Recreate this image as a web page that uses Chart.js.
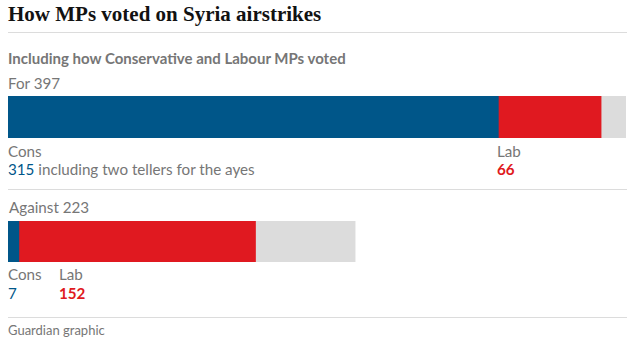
<!DOCTYPE html>
<html>
<head>
<meta charset="utf-8">
<script src="https://cdn.jsdelivr.net/npm/chart.js@4.4.0/dist/chart.umd.min.js"></script>
<style>
  body { margin: 0; width: 643px; height: 351px; background: #fff; position: relative; overflow: hidden; font-family: "Lato", sans-serif; color: #767676; }
  .abs { position: absolute; white-space: nowrap; }
  h1 { position: absolute; left: 8px; top: 2px; margin: 0; font: bold 21px "Liberation Serif", serif; color: #121212; }
  .rule { position: absolute; left: 8px; width: 619px; height: 1px; background: #dcdcdc; }
  .sub { font-size: 15px; font-weight: bold; }
  .txt { font-size: 15.2px; }
  .blue { color: #005689; }
  .red { color: #e01920; font-weight: bold; }
  canvas { position: absolute; left: 8px; }
</style>
</head>
<body>
<h1>How MPs voted on Syria airstrikes</h1>
<div class="rule" style="top:32px"></div>
<div class="abs sub" style="left:8px;top:49px">Including how Conservative and Labour MPs voted</div>
<div class="abs txt" style="left:8px;top:74px">For 397</div>
<canvas id="forChart" width="618" height="42" style="top:96px"></canvas>
<div class="abs txt" style="left:8px;top:142px">Cons</div>
<div class="abs txt" style="left:8px;top:160px"><span class="blue">315</span> including two tellers for the ayes</div>
<div class="abs txt" id="forLab" style="left:497px;top:142px">Lab</div>
<div class="abs txt red" style="left:497px;top:160px">66</div>
<div class="rule" style="top:189px"></div>
<div class="abs txt" style="left:9px;top:198px">Against 223</div>
<canvas id="againstChart" width="618" height="41" style="top:221px"></canvas>
<div class="abs txt" style="left:8px;top:265px">Cons</div>
<div class="abs txt blue" style="left:8px;top:284px">7</div>
<div class="abs txt" style="left:59px;top:265px">Lab</div>
<div class="abs txt red" style="left:59px;top:284px">152</div>
<div class="rule" style="top:317px"></div>
<div class="abs" style="left:8px;top:322px;font-size:13px">Guardian graphic</div>
<script>
const parties = ["Cons", "Lab", "Other"];
const partyColors = ["#005689", "#e01920", "#dcdcdc"];
const forVotes = [315, 66, 16];
const againstVotes = [7, 152, 64];
const scaleMax = 397;

function drawBar(id, votes) {
  const ctx = document.getElementById(id).getContext("2d");
  return new Chart(ctx, {
    type: "bar",
    data: {
      labels: [""],
      datasets: parties.map((p, i) => ({
        label: p,
        data: [votes[i]],
        backgroundColor: partyColors[i],
        borderWidth: 0,
        categoryPercentage: 1,
        barPercentage: 1,
      })),
    },
    options: {
      indexAxis: "y",
      responsive: false,
      animation: false,
      layout: { padding: 0 },
      scales: {
        x: { stacked: true, min: 0, max: scaleMax, display: false },
        y: { stacked: true, display: false },
      },
      plugins: {
        legend: { display: false },
        tooltip: { enabled: false },
      },
    },
  });
}

drawBar("forChart", forVotes);
drawBar("againstChart", againstVotes);
</script>
</body>
</html>
